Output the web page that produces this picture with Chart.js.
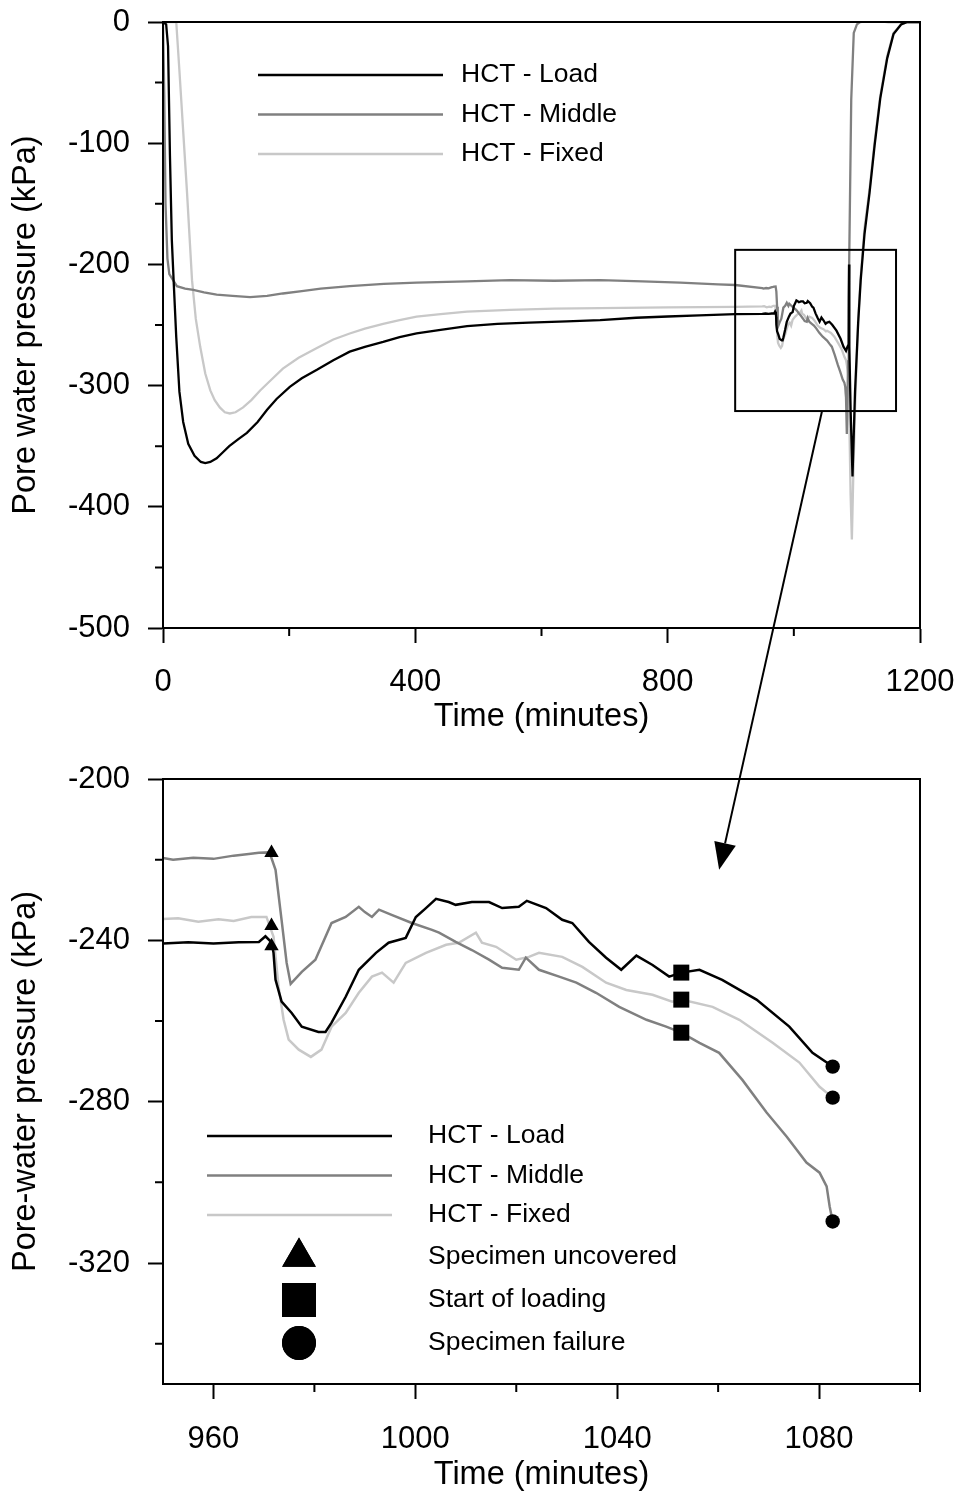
<!DOCTYPE html>
<html lang="en">
<head>
<meta charset="UTF-8" />
<title>Pore water pressure during HCT test</title>
<script src="https://cdn.jsdelivr.net/npm/chart.js"></script>
<style>
  body { margin: 0; background: #fff; }
  #wrap { position: relative; width: 961px; height: 1493px; }
  #topChart { position: absolute; left: 0; top: 0; }
  #zoomChart { position: absolute; left: 0; top: 745px; }
  #overlay { position: absolute; left: 0; top: 0; pointer-events: none; }
</style>
</head>
<body>
<div id="wrap">
  <canvas id="topChart" width="961" height="745"></canvas>
  <canvas id="zoomChart" width="961" height="748"></canvas>
  <canvas id="overlay" width="961" height="1493"></canvas>
</div>
<script>
// ---- data: [time (min), pore water pressure (kPa)] ----
const hctLoad = [
  [0,0],[5,-2],[8,-20],[11,-110],[14,-180],[17,-215],[21,-260],[26,-305],[32,-330],[40,-348],
  [50,-358],[60,-363],[67,-364],[75,-363],[85,-360],[95,-355],[105,-350],[120,-344],[133,-339],
  [150,-330],[165,-320],[180,-311],[201,-301],[220,-294],[244,-287],[270,-279],[296,-272],
  [320,-268],[349,-264],[375,-260],[402,-257],[440,-254],[482,-251],[530,-249],[580,-248],
  [640,-247],[693,-246],[750,-244],[800,-243],[850,-242],[907,-241],[950,-240.8],
  [955,-240.5],[960,-240.8],[965,-240.5],[969,-240.4],[970.3,-239],[971.5,-240.5],[971.9,-243.1],
  [972.3,-249.8],[973.5,-255.2],[975.5,-258],[977.5,-261.4],[980.8,-262.7],[982.2,-262.7],
  [983.4,-260.4],[986.2,-254],[988.8,-247.3],[992.2,-243.1],[994.7,-240.6],[998.1,-239.4],
  [1000.1,-234.2],[1002.1,-232],[1004.1,-229.7],[1006.6,-230.5],[1008,-231.2],[1011.2,-230.5],
  [1014.6,-230.5],[1017.2,-232],[1020.5,-231.7],[1022.1,-230.2],[1025.9,-232],[1029.1,-234.9],
  [1031.1,-235.7],[1034.4,-240.4],[1037.8,-244.3],[1040.8,-247.3],[1043.8,-243.8],[1047,-246.1],
  [1050.3,-249],[1052.7,-248],[1056.3,-247.3],[1060.8,-249.8],[1067.6,-254.7],[1074.1,-261.4],
  [1078.7,-267.9],[1082.7,-271.3],
  [1085,-268],[1087,-266],[1087.5,-200],[1088,-268],[1090,-320],[1093,-375],[1097,-305],
  [1102,-248],[1106,-213],[1112,-175],[1120,-141],[1128,-102],[1137,-63],[1148,-30],
  [1158,-10],[1170,-2],[1180,0],[1200,0]
];
const hctMiddle = [
  [0,0],[2,-60],[4,-150],[7,-195],[10,-208],[16,-213],[22,-218],[35,-220],[48,-221],[65,-223],
  [85,-225],[110,-226],[138,-227],[165,-226],[190,-224],[220,-222],[250,-220],[296,-218],
  [350,-216],[402,-215],[482,-214],[550,-213],[620,-213.5],[693,-213],[760,-214],[820,-215],
  [880,-216.5],[907,-217],[950,-219.6],
  [952,-220],[956,-219.5],[960,-219.8],[964,-219],[967,-218.6],[969,-218.3],[971.1,-218.2],
  [972.3,-222.5],[973.5,-235],[974.5,-245.6],[975.3,-250.8],[977.5,-247.8],[980.2,-244.8],
  [983.4,-235.7],[986.2,-234.2],[988.8,-231.7],[990,-233],[991.4,-234.2],[992.8,-232.4],
  [995.3,-233.7],[999.3,-235.7],[1003.3,-237.4],[1004.7,-238.1],[1008,-240.4],[1011.2,-242.4],
  [1014.6,-244.8],[1017.2,-246.8],[1020.5,-247.3],[1021.9,-244.3],[1024.5,-247.3],[1028.5,-249],
  [1031.9,-250.5],[1035.8,-253],[1040.4,-256.5],[1045.8,-259.7],[1049.7,-261.4],[1052.7,-262.9],
  [1056.3,-265.4],[1060.2,-267.9],[1064.8,-274.6],[1069.6,-282.7],[1073.6,-288.7],[1077.5,-295.1],
  [1080.1,-297.6],[1081.5,-301],[1082.1,-306],[1082.7,-309.7],
  [1084,-340],[1086,-280],[1087,-229],[1091,-64],[1095,-9],[1100,-2],[1105,0],[1120,1],
  [1150,0],[1200,0]
];
const hctFixed = [
  [0,0],[15,0],[21,0],[26,-40],[32,-90],[38,-140],[46,-213],[52,-245],[59,-268],[67,-290],
  [75,-304],[82,-312],[90,-318],[98,-322],[106,-323],[115,-322],[127,-318],[140,-312],
  [154,-304],[170,-296],[190,-286],[215,-277],[244,-269],[270,-262],[296,-257],[320,-253],
  [349,-249],[375,-246],[402,-243],[440,-241],[482,-239],[550,-237.5],[620,-236.5],[693,-236],
  [800,-235.5],[907,-235],[950,-234.7],
  [953,-234.5],[957,-235.4],[961,-234.8],[964,-235.2],[967.5,-234.2],[970.5,-234.2],[971.9,-239.1],
  [972.9,-251.5],[973.9,-259.7],[974.9,-264.6],[976.9,-267.1],[979.3,-268.9],[981.4,-267.1],
  [983.4,-261.4],[986.2,-258],[988.8,-253],[991.4,-249],[993.4,-248],[995.7,-250.5],[998.1,-245.6],
  [1002.1,-243.1],[1006.1,-241.1],[1008.6,-240.6],[1012,-238.1],[1013.2,-240.6],[1016,-241.6],
  [1020,-244.8],[1022.5,-244.1],[1024.5,-243.1],[1029.1,-244.1],[1033.1,-246.6],[1037.8,-250.5],
  [1041.8,-252.3],[1047,-253.5],[1050.9,-255.2],[1052.7,-254.7],[1058.9,-256.5],[1064.2,-259.7],
  [1070.8,-265.4],[1076.1,-270.3],[1080.1,-276.3],[1082.7,-279],
  [1084,-283],[1086,-290],[1088,-330],[1090,-390],[1092,-427],[1094,-380],[1097,-320],
  [1102,-245],[1106,-210],[1112,-170],[1120,-138],[1128,-99],[1137,-61],[1148,-28],
  [1158,-9],[1170,-2],[1180,0],[1200,0]
];

// event markers (zoomed chart)
const uncovered = [[971.5,-218.3],[971.5,-236.4],[971.5,-241.4]];
const loadingStart = [[1052.7,-248],[1052.7,-254.7],[1052.7,-262.9]];
const failure = [[1082.7,-271.3],[1082.7,-279],[1082.7,-309.7]];

const seriesNames = ['HCT - Load', 'HCT - Middle', 'HCT - Fixed'];
const markerNames = ['Specimen uncovered', 'Start of loading', 'Specimen failure'];

// ticks
const topMinorX = [200, 600, 1000];
const topMinorY = [-50, -150, -250, -350, -450];
const zoomMinorX = [980, 1020, 1060, 1100];
const zoomMinorY = [-220, -260, -300, -340];

// zoom window drawn on the overview, and the arrow to the detail chart
const insetBox = { x0: 907, x1: 1162, y0: -188, y1: -321 };
const arrowFrom = [1044.7, -321];
const arrowTo = [1060.2, -222.5];

const FONT = '"Liberation Sans", Arial, sans-serif';
Chart.defaults.font.family = FONT;
Chart.defaults.color = '#000';
Chart.defaults.animation = false;

const colors = ['#000000', '#808080', '#c8c8c8'];

function lineSet(label, pts, color, width) {
  return {
    label, data: pts, borderColor: color, backgroundColor: color,
    borderWidth: width, pointRadius: 0, fill: false, tension: 0
  };
}

// box frame + short minor ticks + optional inset rectangle
const framePlugin = {
  id: 'frame',
  afterDatasetsDraw(chart, args, opts) {
    const { ctx, chartArea: a, scales: { x, y } } = chart;
    ctx.save();
    ctx.strokeStyle = '#000';
    ctx.lineWidth = 2;
    ctx.strokeRect(a.left, a.top, a.right - a.left, a.bottom - a.top);
    ctx.beginPath();
    (opts.minorX || []).forEach(v => {
      const px = x.getPixelForValue(v);
      ctx.moveTo(px, a.bottom); ctx.lineTo(px, a.bottom + 8);
    });
    (opts.minorY || []).forEach(v => {
      const py = y.getPixelForValue(v);
      ctx.moveTo(a.left, py); ctx.lineTo(a.left - 8, py);
    });
    ctx.stroke();
    if (opts.box) {
      const b = opts.box;
      const l = x.getPixelForValue(b.x0), r = x.getPixelForValue(b.x1);
      const t = y.getPixelForValue(b.y0), bt = y.getPixelForValue(b.y1);
      ctx.strokeRect(l, t, r - l, bt - t);
    }
    ctx.restore();
  }
};

// hand drawn legend: long line samples, then marker samples
const legendPlugin = {
  id: 'sketchLegend',
  afterDraw(chart, args, o) {
    const { ctx, chartArea: a } = chart;
    ctx.save();
    ctx.font = '26.5px ' + FONT;
    ctx.textBaseline = 'middle';
    ctx.fillStyle = '#000';
    let yy = a.top + o.top;
    chart.data.datasets.filter(d => !d.isMarker).forEach(d => {
      ctx.strokeStyle = d.borderColor;
      ctx.lineWidth = 2.5;
      ctx.beginPath();
      ctx.moveTo(a.left + o.lineStart, yy);
      ctx.lineTo(a.left + o.lineStart + o.lineLen, yy);
      ctx.stroke();
      ctx.fillText(d.label, a.left + o.textX, yy);
      yy += o.rowGap;
    });
    if (o.markers) {
      yy += o.markerShift;
      chart.data.datasets.filter(d => d.isMarker).forEach(d => {
        Chart.helpers.drawPoint(ctx, {
          pointStyle: d.pointStyle, radius: d.legendRadius, borderWidth: 0, rotation: 0
        }, a.left + o.markerX, yy);
        ctx.fill();
        ctx.fillText(d.label, a.left + o.textX, yy);
        yy += o.markerGap;
      });
    }
    ctx.restore();
  }
};

function axisOpts(min, max, step, title, isX, size, tickPad) {
  return {
    type: 'linear', min, max,
    ticks: {
      stepSize: step, includeBounds: false, autoSkip: false, maxRotation: 0,
      font: { size: 31 }, padding: tickPad, color: '#000',
      callback: v => String(v)
    },
    grid: { drawOnChartArea: false, tickLength: 15, tickWidth: 2, tickColor: '#000' },
    border: { color: '#000', width: 2 },
    title: {
      display: true, text: title, font: { size: 32.5 }, color: '#000',
      padding: isX ? { top: 0, bottom: size } : { top: size, bottom: 0 }
    },
    afterFit: s => {
      if (isX) s.height = isX; else s.width = 163;
      // keep the plot frame where the layout padding puts it
      s.paddingLeft = s.paddingRight = s.paddingTop = s.paddingBottom = 0;
    }
  };
}

const topChart = new Chart(document.getElementById('topChart'), {
  type: 'line',
  data: {
    datasets: [
      lineSet(seriesNames[0], hctLoad, colors[0], 2.3),
      lineSet(seriesNames[1], hctMiddle, colors[1], 2.3),
      lineSet(seriesNames[2], hctFixed, colors[2], 2.3)
    ]
  },
  options: {
    responsive: false,
    animation: false,
    layout: { padding: { top: 22, right: 41, left: 0, bottom: 0 } },
    plugins: {
      legend: { display: false }, tooltip: { enabled: false },
      frame: { minorX: topMinorX, minorY: topMinorY, box: insetBox },
      sketchLegend: { top: 53, lineStart: 95, lineLen: 185, textX: 298, rowGap: 39.5 }
    },
    scales: {
      x: axisOpts(0, 1200, 400, 'Time (minutes)', 117, 8, 21),
      y: axisOpts(-500, 0, 100, 'Pore water pressure (kPa)', false, 7, 18)
    }
  },
  plugins: [framePlugin, legendPlugin]
});

const inZoom = pts => pts.filter(p => p[0] >= 950 && p[0] <= 1083);

function markerSet(label, pts, style, radius, legendRadius) {
  return {
    type: 'scatter', label, data: pts, isMarker: true, order: -1,
    pointStyle: style, pointRadius: radius, legendRadius,
    pointBackgroundColor: '#000', pointBorderColor: '#000', pointBorderWidth: 0,
    backgroundColor: '#000', showLine: false
  };
}

const zoomChart = new Chart(document.getElementById('zoomChart'), {
  type: 'line',
  data: {
    datasets: [
      lineSet(seriesNames[0], inZoom(hctLoad), colors[0], 2.5),
      lineSet(seriesNames[1], inZoom(hctMiddle), colors[1], 2.5),
      lineSet(seriesNames[2], inZoom(hctFixed), colors[2], 2.5),
      markerSet(markerNames[0], uncovered, 'triangle', 8.3, 19.5),
      markerSet(markerNames[1], loadingStart, 'rect', 11.3, 24),
      markerSet(markerNames[2], failure, 'circle', 7.2, 17)
    ]
  },
  options: {
    responsive: false,
    animation: false,
    layout: { padding: { top: 34, right: 41, left: 0, bottom: 0 } },
    plugins: {
      legend: { display: false }, tooltip: { enabled: false },
      frame: { minorX: zoomMinorX, minorY: zoomMinorY },
      sketchLegend: {
        top: 357, lineStart: 44, lineLen: 185, textX: 265, rowGap: 39.5,
        markers: true, markerShift: 2.5, markerX: 136, markerGap: 43
      }
    },
    scales: {
      x: axisOpts(950, 1100, 40, 'Time (minutes)', 109, -2, 22),
      y: axisOpts(-350, -200, 40, 'Pore-water pressure (kPa)', false, 7, 18)
    }
  },
  plugins: [framePlugin, legendPlugin]
});

// arrow from the zoom window on the overview down to the detail chart
(function drawArrow() {
  const ctx = document.getElementById('overlay').getContext('2d');
  const zoomTop = 745;
  const x1 = topChart.scales.x.getPixelForValue(arrowFrom[0]);
  const y1 = topChart.scales.y.getPixelForValue(arrowFrom[1]);
  const x2 = zoomChart.scales.x.getPixelForValue(arrowTo[0]);
  const y2 = zoomTop + zoomChart.scales.y.getPixelForValue(arrowTo[1]);
  const ang = Math.atan2(y2 - y1, x2 - x1);
  const headLen = 27, headHalf = 11;
  const bx = x2 - Math.cos(ang) * headLen, by = y2 - Math.sin(ang) * headLen;
  ctx.strokeStyle = '#000';
  ctx.fillStyle = '#000';
  ctx.lineWidth = 2;
  ctx.beginPath();
  ctx.moveTo(x1, y1);
  ctx.lineTo(bx, by);
  ctx.stroke();
  ctx.beginPath();
  ctx.moveTo(x2, y2);
  ctx.lineTo(bx + Math.sin(ang) * headHalf, by - Math.cos(ang) * headHalf);
  ctx.lineTo(bx - Math.sin(ang) * headHalf, by + Math.cos(ang) * headHalf);
  ctx.closePath();
  ctx.fill();
})();
</script>
</body>
</html>
